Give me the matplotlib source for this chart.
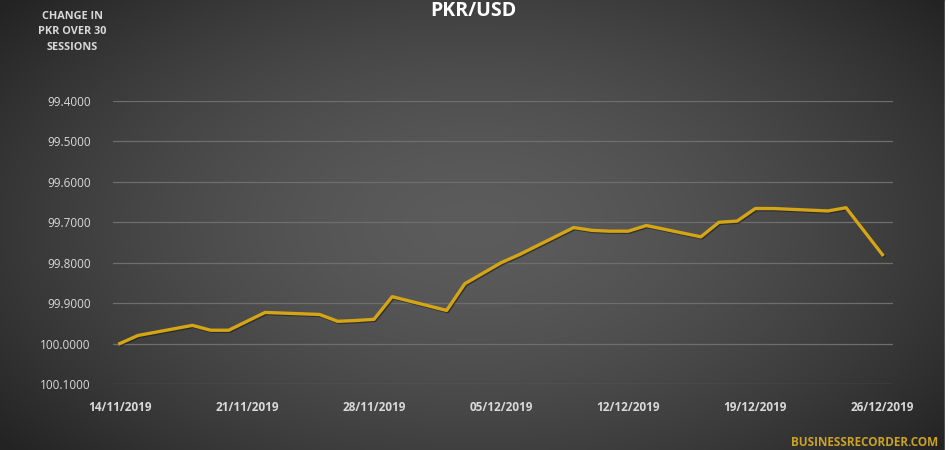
import numpy as np
import pandas as pd
import matplotlib
matplotlib.use("Agg")
import matplotlib.pyplot as plt
import matplotlib.patheffects as pe

# PKR per USD over the last 30 sessions
dates = ["14/11/2019", "15/11/2019", "18/11/2019", "19/11/2019", "20/11/2019",
         "21/11/2019", "22/11/2019", "25/11/2019", "26/11/2019", "27/11/2019",
         "28/11/2019", "29/11/2019", "02/12/2019", "03/12/2019", "04/12/2019",
         "05/12/2019", "06/12/2019", "09/12/2019", "10/12/2019", "11/12/2019",
         "12/12/2019", "13/12/2019", "16/12/2019", "17/12/2019", "18/12/2019",
         "19/12/2019", "20/12/2019", "23/12/2019", "24/12/2019", "26/12/2019"]
rates = [100.000, 99.980, 99.955, 99.967, 99.967,
         99.945, 99.923, 99.928, 99.945, 99.943,
         99.940, 99.884, 99.918, 99.852, 99.826,
         99.800, 99.780, 99.713, 99.720, 99.722,
         99.722, 99.708, 99.736, 99.700, 99.697,
         99.666, 99.666, 99.672, 99.664, 99.780]

tick_labels = ["14/11/2019", "21/11/2019", "28/11/2019", "05/12/2019",
               "12/12/2019", "19/12/2019", "26/12/2019"]
y_ticks = [99.4, 99.5, 99.6, 99.7, 99.8, 99.9, 100.0, 100.1]

x = pd.to_datetime(dates, format="%d/%m/%Y")
xt = pd.to_datetime(tick_labels, format="%d/%m/%Y")

plt.rcParams['font.family'] = ['Open Sans', 'DejaVu Sans']

fig = plt.figure(figsize=(9.5, 4.5), dpi=100)

# radial gray background like the Excel chart area
bg = fig.add_axes([0, 0, 1, 1], zorder=-10)
gx, gy = np.meshgrid(np.linspace(0, 1, 400), np.linspace(0, 1, 200))
r = np.sqrt(((gx - 0.5) / 0.62) ** 2 + ((gy - 0.5) / 0.75) ** 2)
shade = np.clip(0.36 - 0.21 * r ** 1.6, 0.14, 1)
bg.imshow(np.dstack([shade, shade, shade]), extent=[0, 1, 0, 1],
          aspect="auto", origin="lower")
bg.add_patch(plt.Rectangle((945 / 950, 0), 5 / 950, 1, color="white"))
bg.set_xlim(0, 1)
bg.set_ylim(0, 1)
bg.axis("off")

ax = fig.add_axes([113 / 950, 1 - 384 / 450, 780 / 950, 283 / 450])
ax.set_facecolor("none")

ax.plot(x, rates, color="#d4a514", lw=2.4, solid_joinstyle="round",
        path_effects=[pe.SimpleLineShadow(offset=(0.8, -0.8), shadow_color="#1a1a1a", alpha=0.6),
                      pe.Normal()])

ax.set_ylim(100.1, 99.4)
ax.set_yticks(y_ticks)
ax.set_yticklabels(["%.4f" % v for v in y_ticks])
ax.set_xticks(xt)
ax.set_xticklabels(tick_labels, fontweight="bold")
ax.set_xlim(x[0] - pd.Timedelta(hours=9), x[-1] + pd.Timedelta(hours=14))

ax.grid(axis="y", color="#6e6e6e", lw=0.9)
ax.grid(axis="x", visible=False)
for s in ax.spines.values():
    s.set_visible(False)
ax.tick_params(axis="both", length=0, colors="#d9d9d9", labelsize=8.5)
ax.tick_params(axis="y", pad=16)
ax.tick_params(axis="x", pad=12)

fig.text(473 / 950, 1 - 1 / 450, "PKR/USD", ha="center", va="top",
         color="white", fontsize=14, fontweight="bold")
fig.text(72 / 950, 1 - 32 / 450, "CHANGE IN\nPKR OVER 30\nSESSIONS", ha="center",
         va="center", color="#d9d9d9", fontsize=7.8, fontweight="bold",
         linespacing=1.6)
fig.text(938 / 950, 1 / 450, "BUSINESSRECORDER.COM", ha="right", va="bottom",
         color="#c9a227", fontsize=8.5, fontweight="bold")

fig.savefig("out.png", dpi=100)
